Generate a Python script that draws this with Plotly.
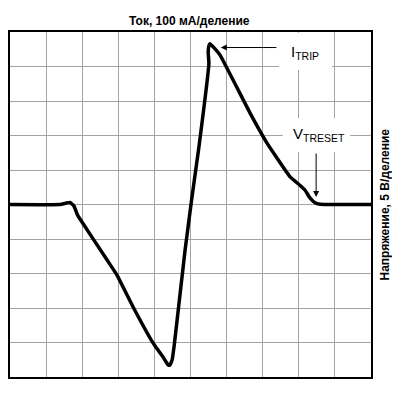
import plotly.graph_objects as go

# Trace (divisions: x 0..10, y -5..5)
time_div = [0, 1.39, 1.55, 1.66, 1.77, 1.86, 1.94, 2.69, 2.96, 3.41, 3.96, 4.10, 4.24, 4.38,
            4.43, 4.49, 4.55, 4.85, 5.03, 5.24, 5.51, 5.49, 5.51, 5.54, 5.68, 5.82, 6.65,
            7.12, 7.76, 8.03, 8.17, 8.31, 8.45, 8.59, 10]
signal_div = [0, 0, 0.04, 0.06, -0.04, -0.28, -0.42, -1.61, -2.04, -2.97, -4.01, -4.22, -4.42,
              -4.65, -4.65, -4.51, -4.07, -1.32, 0.13, 1.72, 4.10, 4.40, 4.60, 4.66, 4.51, 4.33,
              2.65, 1.78, 0.80, 0.56, 0.42, 0.19, 0.05, 0.01, 0]

title_text = "Ток, 100 мА/деление"
right_title = "Напряжение, 5 В/деление"
itrip_label = "I<sub>TRIP</sub>"
vtreset_label = "V<sub>TRESET</sub>"

fig = go.Figure()
fig.add_trace(go.Scatter(x=time_div, y=signal_div, mode="lines",
                         line=dict(color="black", width=3.5, shape="spline", smoothing=0.3),
                         hoverinfo="skip", showlegend=False))

axis_common = dict(showticklabels=False, ticks="", showgrid=True, gridcolor="#a4a4a4",
                   gridwidth=1, zeroline=False, showline=True, linecolor="black",
                   linewidth=2, mirror=True, dtick=1, fixedrange=True)
fig.update_xaxes(range=[0, 10], tick0=0, **axis_common)
fig.update_yaxes(range=[-5, 5], tick0=-5, **axis_common)

font = "Liberation Sans, Arial, sans-serif"
fig.update_layout(
    width=392, height=386,
    margin=dict(l=2, r=29, t=24, b=17),
    plot_bgcolor="white", paper_bgcolor="white",
    shapes=[
        dict(type="rect", xref="x", yref="y", x0=7.45, x1=8.92, y0=3.9, y1=4.97,
             fillcolor="white", line=dict(width=0), layer="between"),
        dict(type="rect", xref="x", yref="y", x0=7.56, x1=9.42, y0=1.52, y1=2.51,
             fillcolor="white", line=dict(width=0), layer="between"),
    ],
    annotations=[
        dict(text="<b>" + title_text + "</b>", xref="paper", yref="paper", x=0.497, y=1,
             yshift=11, xanchor="center", yanchor="middle", showarrow=False,
             font=dict(family=font, size=12, color="black")),
        dict(text="<b>" + right_title + "</b>", xref="paper", yref="paper", x=1, y=0.5,
             xshift=13, xanchor="center", yanchor="middle", textangle=-90, showarrow=False,
             font=dict(family=font, size=12, color="black")),
        # arrows
        dict(x=5.84, y=4.55, ax=7.42, ay=4.55, xref="x", yref="y", axref="x", ayref="y",
             text="", showarrow=True, arrowhead=2, arrowsize=1.2, arrowwidth=1, arrowcolor="black"),
        dict(x=8.48, y=0.22, ax=8.48, ay=1.52, xref="x", yref="y", axref="x", ayref="y",
             text="", showarrow=True, arrowhead=2, arrowsize=1.2, arrowwidth=1, arrowcolor="black"),
        # labels
        dict(text=itrip_label, x=8.17, y=4.42, xref="x", yref="y", showarrow=False,
             font=dict(family=font, size=15, color="black")),
        dict(text=vtreset_label, x=8.57, y=2.03, xref="x", yref="y", showarrow=False,
             font=dict(family=font, size=15, color="black")),
    ],
)

fig.write_html("out.html")
